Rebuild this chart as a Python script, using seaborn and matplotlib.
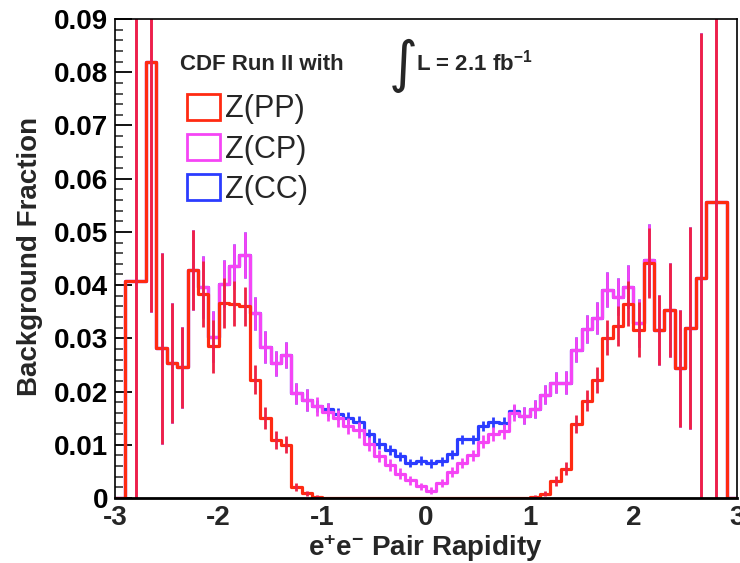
import numpy as np
import pandas as pd
import matplotlib
matplotlib.use("Agg")
import matplotlib.pyplot as plt
import seaborn as sns
from matplotlib.patches import Rectangle
from matplotlib.ticker import MultipleLocator

# ---------------- data ----------------
bin_edges = [-3.0, -2.9, -2.7, -2.6, -2.5, -2.4, -2.3, -2.2, -2.1, -2.0,
             -1.9, -1.8, -1.7, -1.6, -1.5, -1.4, -1.3, -1.2, -1.1, -1.0,
             -0.9, -0.8, -0.7, -0.6, -0.5, -0.4, -0.3, -0.2, -0.1, 0.0,
             0.1, 0.2, 0.3, 0.4, 0.5, 0.6, 0.7, 0.8, 0.9, 1.0,
             1.1, 1.2, 1.3, 1.4, 1.5, 1.6, 1.7, 1.8, 1.9, 2.0,
             2.1, 2.2, 2.3, 2.4, 2.5, 2.6, 2.7, 2.9, 3.0]

z_pp = [0.0, 0.0408, 0.0820, 0.0281, 0.0253, 0.0246, 0.0428, 0.0383, 0.0285, 0.0366,
        0.0365, 0.0360, 0.0222, 0.0150, 0.0109, 0.0100, 0.0021, 0.0009, 0.0002, 0.0,
        0.0, 0.0, 0.0, 0.0, 0.0, 0.0, 0.0, 0.0, 0.0, 0.0,
        0.0, 0.0, 0.0, 0.0, 0.0, 0.0, 0.0, 0.0, 0.0, 0.0002,
        0.0008, 0.0032, 0.0055, 0.0139, 0.0183, 0.0222, 0.0301, 0.0323, 0.0365, 0.0316,
        0.0441, 0.0316, 0.0353, 0.0244, 0.0319, 0.0414, 0.0557, 0.0]
z_pp_err = [0.0, 0.060, 0.047, 0.018, 0.0113, 0.0076, 0.0075, 0.0062, 0.0050, 0.0047,
            0.0042, 0.0037, 0.0027, 0.0021, 0.0016, 0.0016, 0.0008, 0.0005, 0.0003, 0.0,
            0.0, 0.0, 0.0, 0.0, 0.0, 0.0, 0.0, 0.0, 0.0, 0.0,
            0.0, 0.0, 0.0, 0.0, 0.0, 0.0, 0.0, 0.0, 0.0, 0.0003,
            0.0005, 0.0009, 0.0012, 0.0017, 0.0020, 0.0025, 0.0033, 0.0037, 0.0042, 0.0052,
            0.0066, 0.0066, 0.0088, 0.0110, 0.0190, 0.046, 0.060, 0.0]

z_cp = [0.0, 0.0408, 0.0820, 0.0281, 0.0253, 0.0246, 0.0428, 0.0396, 0.0303, 0.0403,
        0.0435, 0.0457, 0.0347, 0.0284, 0.0253, 0.0269, 0.0197, 0.0184, 0.0172, 0.0162,
        0.0150, 0.0136, 0.0127, 0.0102, 0.0079, 0.0062, 0.0046, 0.0033, 0.0022, 0.0014,
        0.0028, 0.0049, 0.0066, 0.0080, 0.0106, 0.0121, 0.0125, 0.0160, 0.0155, 0.0168,
        0.0194, 0.0217, 0.0217, 0.0279, 0.0317, 0.0338, 0.0391, 0.0378, 0.0397, 0.0328,
        0.0447, 0.0316, 0.0353, 0.0244, 0.0319, 0.0414, 0.0557, 0.0]
z_cp_err = [0.0, 0.060, 0.047, 0.018, 0.0113, 0.0076, 0.0075, 0.0058, 0.0048, 0.0045,
            0.0042, 0.0043, 0.0031, 0.0030, 0.0023, 0.0024, 0.0020, 0.0020, 0.0018, 0.0017,
            0.0016, 0.0015, 0.0015, 0.0013, 0.0012, 0.0011, 0.0010, 0.0008, 0.0007, 0.0006,
            0.0007, 0.0009, 0.0010, 0.0011, 0.0012, 0.0013, 0.0014, 0.0016, 0.0016, 0.0017,
            0.0018, 0.0020, 0.0022, 0.0024, 0.0026, 0.0030, 0.0033, 0.0035, 0.0040, 0.0045,
            0.0068, 0.0066, 0.0088, 0.0110, 0.0190, 0.046, 0.060, 0.0]

z_cc = [0.0, 0.0408, 0.0820, 0.0281, 0.0253, 0.0246, 0.0428, 0.0396, 0.0303, 0.0403,
        0.0435, 0.0457, 0.0347, 0.0284, 0.0253, 0.0269, 0.0197, 0.0184, 0.0173, 0.0167,
        0.0158, 0.0150, 0.0143, 0.0120, 0.0102, 0.0090, 0.0078, 0.0066, 0.0070, 0.0065,
        0.0069, 0.0082, 0.0110, 0.0110, 0.0135, 0.0142, 0.0141, 0.0163, 0.0155, 0.0168,
        0.0194, 0.0217, 0.0217, 0.0279, 0.0317, 0.0338, 0.0391, 0.0378, 0.0397, 0.0328,
        0.0447, 0.0316, 0.0353, 0.0244, 0.0319, 0.0414, 0.0557, 0.0]
z_cc_err = [0.0, 0.060, 0.047, 0.018, 0.0113, 0.0076, 0.0075, 0.0058, 0.0048, 0.0045,
            0.0042, 0.0043, 0.0031, 0.0030, 0.0023, 0.0024, 0.0020, 0.0020, 0.0012, 0.0012,
            0.0011, 0.0011, 0.0011, 0.0010, 0.0010, 0.0009, 0.0009, 0.0008, 0.0008, 0.0008,
            0.0008, 0.0008, 0.0009, 0.0009, 0.0010, 0.0010, 0.0011, 0.0011, 0.0016, 0.0017,
            0.0018, 0.0020, 0.0022, 0.0024, 0.0026, 0.0030, 0.0033, 0.0035, 0.0040, 0.0045,
            0.0068, 0.0066, 0.0088, 0.0110, 0.0190, 0.046, 0.060, 0.0]

series_labels = ["Z(PP)", "Z(CP)", "Z(CC)"]
x_ticks = [-3, -2, -1, 0, 1, 2, 3]
x_tick_labels = ["-3", "-2", "-1", "0", "1", "2", "3"]
y_ticks = [0.0, 0.01, 0.02, 0.03, 0.04, 0.05, 0.06, 0.07, 0.08, 0.09]
y_tick_labels = ["0", "0.01", "0.02", "0.03", "0.04", "0.05", "0.06", "0.07", "0.08", "0.09"]

# ---------------- style ----------------
sns.set_style("ticks")
plt.rcParams["font.family"] = ["Liberation Sans", "DejaVu Sans"]
plt.rcParams["axes.unicode_minus"] = False
plt.rcParams["mathtext.fontset"] = "custom"
plt.rcParams["mathtext.rm"] = "Liberation Sans:bold"
plt.rcParams["mathtext.bf"] = "Liberation Sans:bold"
plt.rcParams["mathtext.default"] = "bf"

RED = "#ff2a12"
RED_ERR = "#ee2244"
MAGENTA = "#f545f5"
BLUE = "#2b3cff"

W, H = 740, 563
fig = plt.figure(figsize=(W / 100, H / 100), dpi=100)
L, R, T, B = 115, 737, 19, 498
ax = fig.add_axes([L / W, 1 - B / H, (R - L) / W, (B - T) / H])

edges = [float(e) for e in bin_edges]
centers = [0.5 * (a + b) for a, b in zip(edges[:-1], edges[1:])]

series = [
    (z_cc, z_cc_err, BLUE, BLUE),
    (z_cp, z_cp_err, MAGENTA, MAGENTA),
    (z_pp, z_pp_err, RED, RED_ERR),
]
for vals, errs, col, ecol in series:
    df = pd.DataFrame({"rapidity": centers, "frac": vals, "err": errs})
    sns.histplot(data=df, x="rapidity", weights="frac", bins=edges,
                 element="step", fill=False, color=col, linewidth=2.3, ax=ax)
    d = df[df["err"] > 0]
    ax.errorbar(d["rapidity"], d["frac"], yerr=d["err"], fmt="none", ecolor=ecol,
                elinewidth=2.0, capsize=0)

ax.set_xlim(-3, 3)
ax.set_ylim(0, 0.09)
ax.set_xticks(x_ticks)
ax.set_xticklabels(x_tick_labels)
ax.set_yticks(y_ticks)
ax.set_yticklabels(y_tick_labels)
ax.yaxis.set_minor_locator(MultipleLocator(0.002))
ax.tick_params(axis="y", which="major", direction="in", length=12, width=1.3,
               labelsize=20, pad=5, colors="black")
ax.tick_params(axis="y", which="minor", direction="in", length=6, width=1.1)
ax.tick_params(axis="x", which="both", direction="in", length=0, labelsize=20, pad=5)
for lab in ax.get_xticklabels() + ax.get_yticklabels():
    lab.set_fontweight("bold")
ax.set_xlabel("")
ax.set_ylabel("")
for s in ax.spines.values():
    s.set_color("black")
    s.set_linewidth(1.2)
ax.spines["bottom"].set_linewidth(2.0)

fig.text(30 / W, 1 - 256 / H, "Background Fraction", rotation=90, ha="center",
         va="center", fontsize=20, fontweight="bold")
fig.text(425 / W, 1 - 556 / H, r"e$^{+}$e$^{-}$ Pair Rapidity", ha="center",
         va="baseline", fontsize=20, fontweight="bold")

fig.text(180 / W, 1 - 70 / H, "CDF Run II with", fontsize=16, fontweight="bold",
         va="baseline", ha="left")
fig.text(403 / W, 1 - 66 / H, "\u222b", fontsize=40, family="DejaVu Sans",
         ha="center", va="center")
fig.text(416 / W, 1 - 70 / H, r"L = 2.1 fb$^{-1}$", fontsize=16, fontweight="bold",
         va="baseline", ha="left")

handles = [Rectangle((0, 0), 1, 1, facecolor="none", edgecolor=c, linewidth=2.0)
           for c in (RED, MAGENTA, BLUE)]
fig.legend(handles, series_labels, loc="upper left",
           bbox_to_anchor=(187 / W, 1 - 94 / H), frameon=False,
           prop={"family": "Liberation Sans", "size": 22},
           handlelength=1.08, handleheight=0.92, handletextpad=0.15,
           labelspacing=0.32, borderpad=0, borderaxespad=0)

fig.savefig("out.png", dpi=100)
